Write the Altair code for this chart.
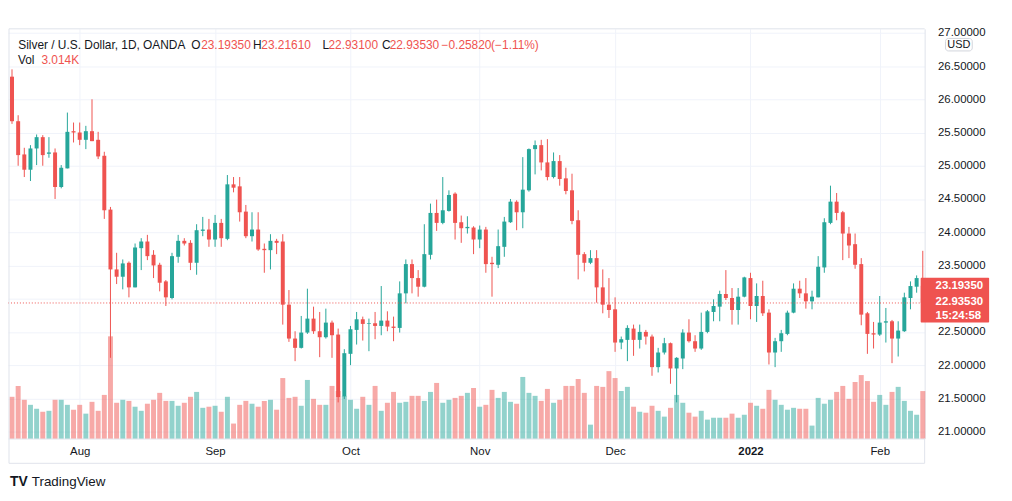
import altair as alt
import pandas as pd

FONT = "Liberation Sans"
UP = "#26a69a"
DOWN = "#ef5350"
TXT = "#131722"
GRID = "#f0f3fa"
BORDER = "#e0e3eb"

opens = [26.34, 25.67, 25.17, 24.94, 25.26, 25.43, 25.18, 25.20, 24.68, 24.96,
         25.52, 25.50, 25.39, 25.52, 25.39, 25.15, 24.34, 23.44, 23.33, 23.54,
         23.17, 23.76, 23.86, 23.66, 23.51, 23.26, 23.01, 23.63, 23.87, 23.84,
         23.54, 24.02, 24.04, 23.89, 24.14, 23.90, 24.72, 24.69, 24.31, 23.94,
         24.04, 23.75, 23.73, 23.87, 23.86, 22.91, 22.40, 22.26, 22.49, 22.70,
         22.51, 22.42, 22.64, 22.46, 21.53, 22.17, 22.53, 22.69, 22.62, 22.63,
         22.59, 22.67, 22.58, 22.56, 23.08, 23.52, 23.31, 23.18, 23.66, 24.29,
         24.14, 24.32, 24.58, 24.15, 24.06, 24.07, 23.89, 24.04, 23.54, 23.51,
         23.78, 24.15, 24.46, 24.30, 24.63, 25.25, 25.31, 25.05, 24.83, 25.07,
         24.81, 24.63, 24.18, 23.67, 23.54, 23.61, 23.17, 22.91, 22.84, 22.34,
         22.38, 22.55, 22.38, 22.50, 22.43, 21.97, 22.19, 22.33, 21.95, 22.10,
         22.49, 22.36, 22.25, 22.50, 22.80, 22.88, 23.07, 23.01, 22.83, 23.03,
         23.31, 22.89, 23.04, 22.79, 22.19, 22.36, 22.47, 22.79, 23.15, 23.08,
         22.96, 23.02, 23.47, 24.14, 24.46, 24.30, 23.98, 23.82, 23.52, 22.78,
         22.48, 22.46, 22.64, 22.66, 22.40, 22.51, 23.01, 23.18, 23.1935]

highs = [26.45, 25.76, 25.27, 25.31, 25.47, 25.46, 25.43, 25.26, 25.01, 25.80,
         25.65, 25.65, 25.60, 26.00, 25.51, 25.21, 24.38, 23.69, 23.59, 23.56,
         23.83, 23.91, 23.96, 23.73, 23.54, 23.28, 23.69, 23.96, 23.91, 23.88,
         24.12, 24.23, 24.20, 24.26, 24.20, 24.86, 24.83, 24.83, 24.41, 24.30,
         24.30, 23.83, 23.97, 23.90, 23.97, 23.13, 22.51, 22.74, 23.15, 22.88,
         22.80, 22.85, 22.67, 22.55, 22.24, 22.59, 22.80, 22.73, 22.70, 22.80,
         23.19, 22.81, 22.73, 23.26, 23.59, 23.59, 23.43, 24.12, 24.43, 24.49,
         24.83, 24.63, 24.60, 24.25, 24.24, 24.09, 24.10, 24.08, 23.63, 24.04,
         24.23, 24.50, 24.48, 25.13, 25.26, 25.38, 25.39, 25.40, 25.20, 25.16,
         24.97, 24.88, 24.33, 23.70, 23.73, 23.73, 23.44, 23.31, 23.02, 22.43,
         22.60, 22.61, 22.61, 22.53, 22.46, 22.26, 22.41, 22.34, 22.12, 22.54,
         22.69, 22.45, 22.79, 22.83, 22.99, 23.12, 23.43, 23.16, 23.16, 23.33,
         23.39, 23.23, 23.27, 22.84, 22.41, 22.53, 22.82, 23.23, 23.27, 23.31,
         23.12, 23.64, 24.21, 24.70, 24.59, 24.32, 24.08, 23.98, 23.61, 22.80,
         22.65, 23.04, 22.86, 22.68, 22.66, 23.09, 23.26, 23.35, 23.72]

lows = [25.63, 25.00, 24.83, 24.77, 25.01, 25.00, 25.12, 24.50, 24.66, 24.96,
        25.35, 25.31, 25.25, 25.37, 25.10, 24.20, 22.11, 23.22, 23.14, 23.02,
        23.17, 23.43, 23.58, 23.31, 23.11, 22.89, 22.99, 23.54, 23.80, 23.43,
        23.36, 23.94, 23.78, 23.78, 23.78, 23.88, 24.60, 24.16, 23.91, 23.86,
        23.72, 23.39, 23.44, 23.67, 22.61, 22.35, 22.06, 22.25, 22.47, 22.47,
        22.12, 22.40, 22.11, 21.44, 21.49, 22.00, 22.31, 22.37, 22.21, 22.39,
        22.45, 22.51, 22.36, 22.49, 22.93, 23.08, 23.03, 23.17, 23.59, 24.02,
        24.12, 24.31, 23.89, 23.84, 23.98, 23.67, 23.76, 23.39, 23.03, 23.46,
        23.63, 24.14, 24.03, 24.06, 24.61, 24.87, 24.93, 24.78, 24.81, 24.70,
        24.57, 24.12, 23.29, 23.41, 23.52, 22.94, 22.78, 22.71, 22.20, 22.24,
        22.06, 22.14, 22.25, 22.31, 21.84, 21.89, 22.16, 21.72, 21.44, 21.94,
        22.34, 22.20, 22.23, 22.48, 22.66, 22.66, 22.98, 22.61, 22.61, 23.02,
        22.69, 22.65, 22.74, 22.01, 21.97, 22.20, 22.45, 22.78, 23.01, 22.85,
        22.84, 23.02, 23.39, 24.12, 24.18, 23.58, 23.61, 23.45, 22.60, 22.17,
        22.25, 22.44, 22.34, 22.03, 22.13, 22.50, 22.84, 23.09, 22.931]

closes = [25.67, 25.16, 24.94, 25.26, 25.43, 25.16, 25.20, 24.68, 24.97, 25.51,
          25.50, 25.39, 25.52, 25.37, 25.14, 24.33, 23.44, 23.33, 23.53, 23.17,
          23.77, 23.86, 23.64, 23.50, 23.24, 23.02, 23.64, 23.87, 23.83, 23.54,
          24.03, 24.04, 23.89, 24.14, 23.91, 24.72, 24.67, 24.30, 23.94, 24.04,
          23.74, 23.73, 23.87, 23.84, 22.91, 22.40, 22.26, 22.49, 22.70, 22.51,
          22.42, 22.64, 22.45, 21.52, 22.18, 22.54, 22.69, 22.62, 22.63, 22.59,
          22.67, 22.58, 22.56, 23.08, 23.52, 23.31, 23.18, 23.67, 24.29, 24.14,
          24.33, 24.56, 24.14, 24.06, 24.08, 23.89, 24.04, 23.52, 23.52, 23.79,
          24.16, 24.46, 24.30, 24.64, 25.25, 25.31, 25.05, 24.83, 25.07, 24.80,
          24.62, 24.17, 23.66, 23.54, 23.61, 23.17, 22.91, 22.83, 22.34, 22.39,
          22.56, 22.38, 22.50, 22.43, 21.97, 22.19, 22.33, 21.95, 22.11, 22.49,
          22.36, 22.25, 22.50, 22.81, 22.89, 23.07, 23.01, 22.83, 23.03, 23.32,
          22.89, 23.04, 22.78, 22.19, 22.36, 22.48, 22.79, 23.15, 23.08, 22.96,
          23.03, 23.48, 24.15, 24.46, 24.29, 23.98, 23.80, 23.51, 22.76, 22.47,
          22.46, 22.64, 22.66, 22.40, 22.52, 23.02, 23.19, 23.31, 22.9353]

volumes = [2650, 3340, 2460, 2140, 1890, 1700, 1760, 2460, 2460, 2140,
           1830, 2140, 1580, 2330, 1760, 2770, 6490, 2270, 2460, 2390,
           2020, 1760, 2210, 2460, 2900, 2390, 2390, 2080, 2270, 2650,
           2960, 1950, 2020, 2080, 1700, 2650, 950, 2140, 2390, 2210,
           2020, 2390, 2460, 1830, 3840, 2580, 2650, 2080, 3720, 2520,
           2140, 2140, 3340, 3020, 2710, 2460, 1890, 2650, 2140, 3340,
           1760, 2270, 2960, 2270, 2330, 2710, 2710, 2390, 2960, 3530,
           2270, 2460, 2580, 2710, 2900, 3210, 2020, 2140, 3090, 2580,
           2960, 2330, 2210, 3910, 2900, 2710, 2390, 3150, 2270, 2460,
           3340, 3340, 3780, 2900, 880, 3340, 3280, 4280, 3840, 3020,
           3280, 2020, 1700, 1640, 2080, 1760, 1390, 1950, 2770, 2270,
           1640, 1390, 1760, 1200, 1320, 1320, 1320, 1580, 1320, 1510,
           2270, 2080, 1890, 3090, 2460, 2140, 1830, 1950, 1890, 1890,
           820, 2580, 2210, 2460, 2960, 3340, 2520, 3590, 4030, 3650,
           2330, 2770, 2140, 2960, 3280, 2390, 1760, 1510, 3014]

month_index = [11, 33, 55, 76, 98, 120, 141]
month_labels = ["Aug", "Sep", "Oct", "Nov", "Dec", "2022", "Feb"]
price_ticks = [21.0, 21.5, 22.0, 22.5, 23.0, 23.5, 24.0, 24.5, 25.0, 25.5, 26.0, 26.5, 27.0]
hidden_tick = 23.0  # covered by the last-price label in the reference
last_close = 22.9353

df = pd.DataFrame({"i": list(range(len(opens))), "o": opens, "h": highs,
                   "l": lows, "c": closes, "v": volumes})
df["dir"] = ["up" if c >= o else "down" for o, c in zip(opens, closes)]

W, H = 924, 413

xscale = alt.Scale(domain=[-0.65, 148.3], nice=False, zero=False, padding=0)
pscale = alt.Scale(domain=[20.896, 27.06], nice=False, zero=False, padding=0)
vscale = alt.Scale(domain=[0, 26020], nice=False, zero=False, padding=0)
cscale = alt.Scale(domain=["down", "up"], range=[DOWN, UP])

label_expr = ""
for idx, lab in zip(month_index, month_labels):
    label_expr += f"datum.value == {idx} ? '{lab}' : "
label_expr += "''"

xaxis = alt.Axis(values=month_index, labelExpr=label_expr, grid=True, gridColor=GRID,
                 ticks=False, domain=True, domainColor=BORDER, labelColor=TXT,
                 labelFont=FONT, labelFontSize=11.5, labelPadding=7, title=None,
                 labelFlush=False, labelOverlap=False,
                 labelFontWeight={"condition": {"test": "datum.value == 120", "value": "bold"},
                                  "value": "normal"})

paxis = alt.Axis(orient="right", values=price_ticks,
                 labelExpr=f"abs(datum.value - {hidden_tick}) < 0.001 ? '' : format(datum.value, '.5f')",
                 grid=True, gridColor=GRID, ticks=False, domain=True, domainColor=BORDER,
                 labelColor=TXT, labelFont=FONT, labelFontSize=11.5,
                 labelPadding=13, title=None, labelOverlap=False)

base = alt.Chart(df)

vol = base.mark_bar(width=5, opacity=0.5).encode(
    x=alt.X("i:Q", scale=xscale, axis=xaxis),
    y=alt.Y("v:Q", scale=vscale, axis=None),
    color=alt.Color("dir:N", scale=cscale, legend=None),
)

wick = base.mark_rule(strokeWidth=1).encode(
    x=alt.X("i:Q", scale=xscale, axis=xaxis),
    y=alt.Y("l:Q", scale=pscale, axis=paxis),
    y2="h:Q",
    color=alt.Color("dir:N", scale=cscale, legend=None),
)

body = base.mark_bar(width=4).encode(
    x=alt.X("i:Q", scale=xscale, axis=xaxis),
    y=alt.Y("o:Q", scale=pscale, axis=paxis),
    y2="c:Q",
    color=alt.Color("dir:N", scale=cscale, legend=None),
)

dotted = alt.Chart(pd.DataFrame({"p": [last_close]})).mark_rule(
    color=DOWN, strokeDash=[1, 2], strokeWidth=1
).encode(y=alt.Y("p:Q", scale=pscale, axis=paxis), x=alt.value(0), x2=alt.value(920))

price = alt.layer(wick, body, dotted)
main = alt.layer(vol, price).resolve_scale(y="independent")


def txt(s, x, y, color=TXT, size=12, weight="normal", align="left"):
    return alt.Chart(pd.DataFrame({"t": [s]})).mark_text(
        align=align, baseline="middle", font=FONT, fontSize=size,
        fontWeight=weight, color=color
    ).encode(x=alt.value(x), y=alt.value(y), text="t:N")


def line(x1, x2, y1, y2, color=BORDER):
    return alt.Chart(pd.DataFrame({"a": [0]})).mark_rule(color=color, strokeWidth=1).encode(
        x=alt.value(x1), x2=alt.value(x2), y=alt.value(y1), y2=alt.value(y2))


def box(x1, x2, y1, y2, fill, stroke=None, radius=0):
    kw = dict(fill=fill, cornerRadius=radius)
    if stroke:
        kw["stroke"] = stroke
        kw["strokeWidth"] = 1
    return alt.Chart(pd.DataFrame({"a": [0]})).mark_rect(**kw).encode(
        x=alt.value(x1), x2=alt.value(x2), y=alt.value(y1), y2=alt.value(y2))


header = [
    txt("Silver / U.S. Dollar, 1D, OANDA", 10.3, 16),
    txt("O", 184.7, 16), txt("23.19350", 194.7, 16, DOWN),
    txt("H", 247, 16), txt("23.21610", 255.3, 16, DOWN),
    txt("L", 317, 16), txt("22.93100", 323, 16, DOWN),
    txt("C", 377, 16), txt("22.93530", 384.7, 16, DOWN),
    txt("\u22120.25820", 437, 16, DOWN),
    txt("(\u22121.11%)", 487, 16, DOWN),
    txt("Vol", 10, 31.5), txt("3.014K", 33.7, 31.5, DOWN),
]

overlay = [
    line(1, 924, 0, 0),
    line(1, 1, 0, 438),
    line(1, 924, 438, 438),
    line(924, 924, 413, 438),
    box(945, 972, 9.7, 22.3, "white", stroke="#d1d4dc", radius=3),
    txt("USD", 958.5, 16, size=11, align="center"),
    box(920, 989, 251, 296, DOWN, radius=1),
    txt("23.19350", 935, 259.7, "white", size=11.5, weight="bold"),
    txt("22.93530", 935, 275.7, "white", size=11.5, weight="bold"),
    txt("15:24:58", 935, 290, "white", size=11.5, weight="bold"),
    txt("TV", 2, 457, "#131722", size=14, weight=900),
    txt("TradingView", 24, 457, size=13.5),
]

chart = alt.layer(main, *header, *overlay).properties(
    width=W, height=H,
    autosize=alt.AutoSizeParams(type="none"),
    padding={"left": 0, "top": 19, "right": 80, "bottom": 61},
    background="white",
).configure_view(strokeWidth=0)

chart.save("out.html", embed_options={"renderer": "svg", "actions": False})
